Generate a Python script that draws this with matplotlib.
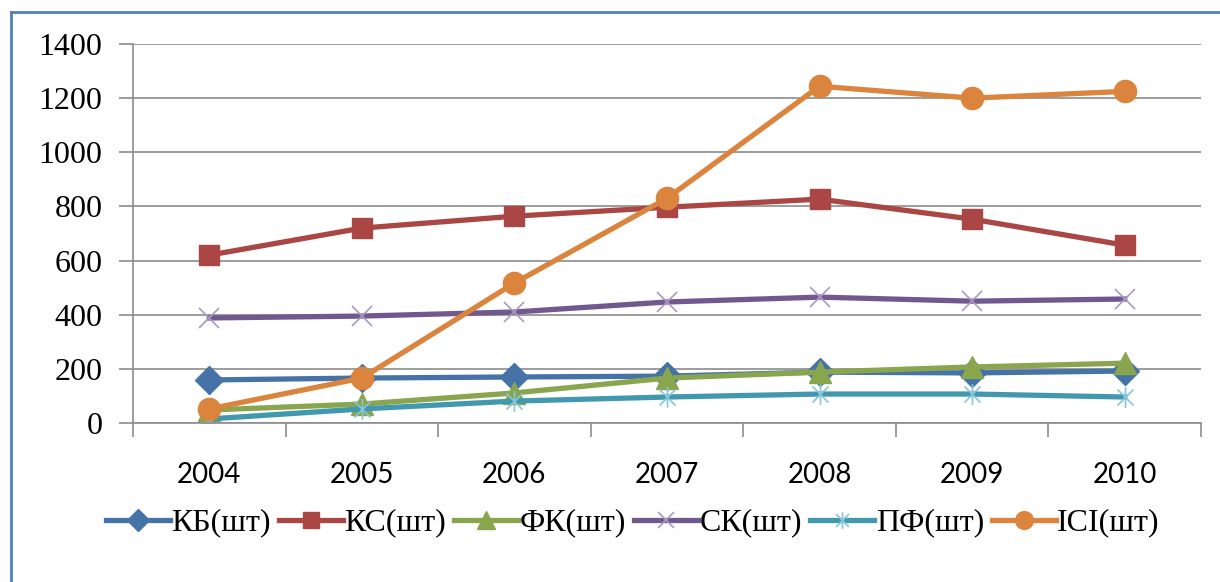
import numpy as np
import matplotlib
matplotlib.use('Agg')
import matplotlib.pyplot as plt
from matplotlib.path import Path
from matplotlib.lines import Line2D

plt.rcParams['font.family'] = 'serif'
plt.rcParams['font.serif'] = ['Liberation Serif', 'DejaVu Serif']

years = ['2004', '2005', '2006', '2007', '2008', '2009', '2010']
kb = [159, 166, 170, 173, 188, 185, 192]
ks = [620, 720, 764, 797, 827, 753, 657]
fk = [48, 70, 111, 166, 188, 207, 221]
sk = [388, 395, 410, 447, 465, 450, 458]
pf = [15, 52, 81, 96, 107, 107, 96]
ici = [52, 166, 517, 830, 1244, 1200, 1225]

# asterisk with vertical stroke, like the spreadsheet "star" marker
star = Path([(-1, -1), (1, 1), (-1, 1), (1, -1), (0, -1.3), (0, 1.3)],
            [Path.MOVETO, Path.LINETO, Path.MOVETO, Path.LINETO, Path.MOVETO, Path.LINETO])

series = [
    ('КБ(шт)', kb, '#4572A7', 'D', 14, '#4572A7', 1),
    ('КС(шт)', ks, '#AA4643', 's', 15, '#AA4643', 1),
    ('ФК(шт)', fk, '#89A54E', '^', 16, '#89A54E', 1),
    ('СК(шт)', sk, '#71588F', 'x', 15, '#A899C2', 1.2),
    ('ПФ(шт)', pf, '#4198AF', star, 15, '#86C5DA', 1.2),
    ('ICI(шт)', ici, '#DB843D', 'o', 16, '#DB843D', 1),
]

fig = plt.figure(figsize=(12.2, 5.82), dpi=100)
ax = fig.add_axes([133 / 1220, 1 - 423 / 582, (1201 - 133) / 1220, (423 - 44) / 582])

x = np.arange(len(years))
for name, vals, col, mk, ms, mcol, mew in series:
    ax.plot(x, vals, color=col, lw=3.8, marker=mk, markersize=ms,
            markerfacecolor=mcol, markeredgecolor=mcol, markeredgewidth=mew,
            label=name, solid_joinstyle='round')

ax.set_xlim(-0.5, 6.5)
ax.set_ylim(0, 1400)
ax.set_yticks(range(0, 1401, 200))
ax.yaxis.grid(True, color='#8c8c8c', lw=1.2)
ax.set_axisbelow(True)

ax.set_xticks(x)
ax.set_xticklabels(years, fontfamily='Lato', fontsize=20)
ax.set_xticks(np.arange(-0.5, 7, 1), minor=True)
ax.tick_params(axis='x', which='major', length=0, pad=28)
ax.tick_params(axis='x', which='minor', length=10, color='#8c8c8c', width=1.2)
ax.tick_params(axis='y', length=10, color='#8c8c8c', width=1.2, pad=12, labelsize=23)

for s in ['top', 'right']:
    ax.spines[s].set_visible(False)
for s in ['left', 'bottom']:
    ax.spines[s].set_color('#8c8c8c')
    ax.spines[s].set_linewidth(1.2)

leg = fig.legend(loc='center', bbox_to_anchor=(633 / 1220, 1 - 523 / 582), ncol=6,
                 frameon=False, prop={'size': 23},
                 handlelength=2.0, handletextpad=0.05, columnspacing=0.25,
                 markerscale=0.8)

# chart frame
fig.add_artist(Line2D([11 / 1220, 11 / 1220], [0, 1 - 12 / 582], color='#4F81BD', lw=2))
fig.add_artist(Line2D([11 / 1220, 1], [1 - 12 / 582, 1 - 12 / 582], color='#4F81BD', lw=2))

fig.savefig('out.png', dpi=100)
